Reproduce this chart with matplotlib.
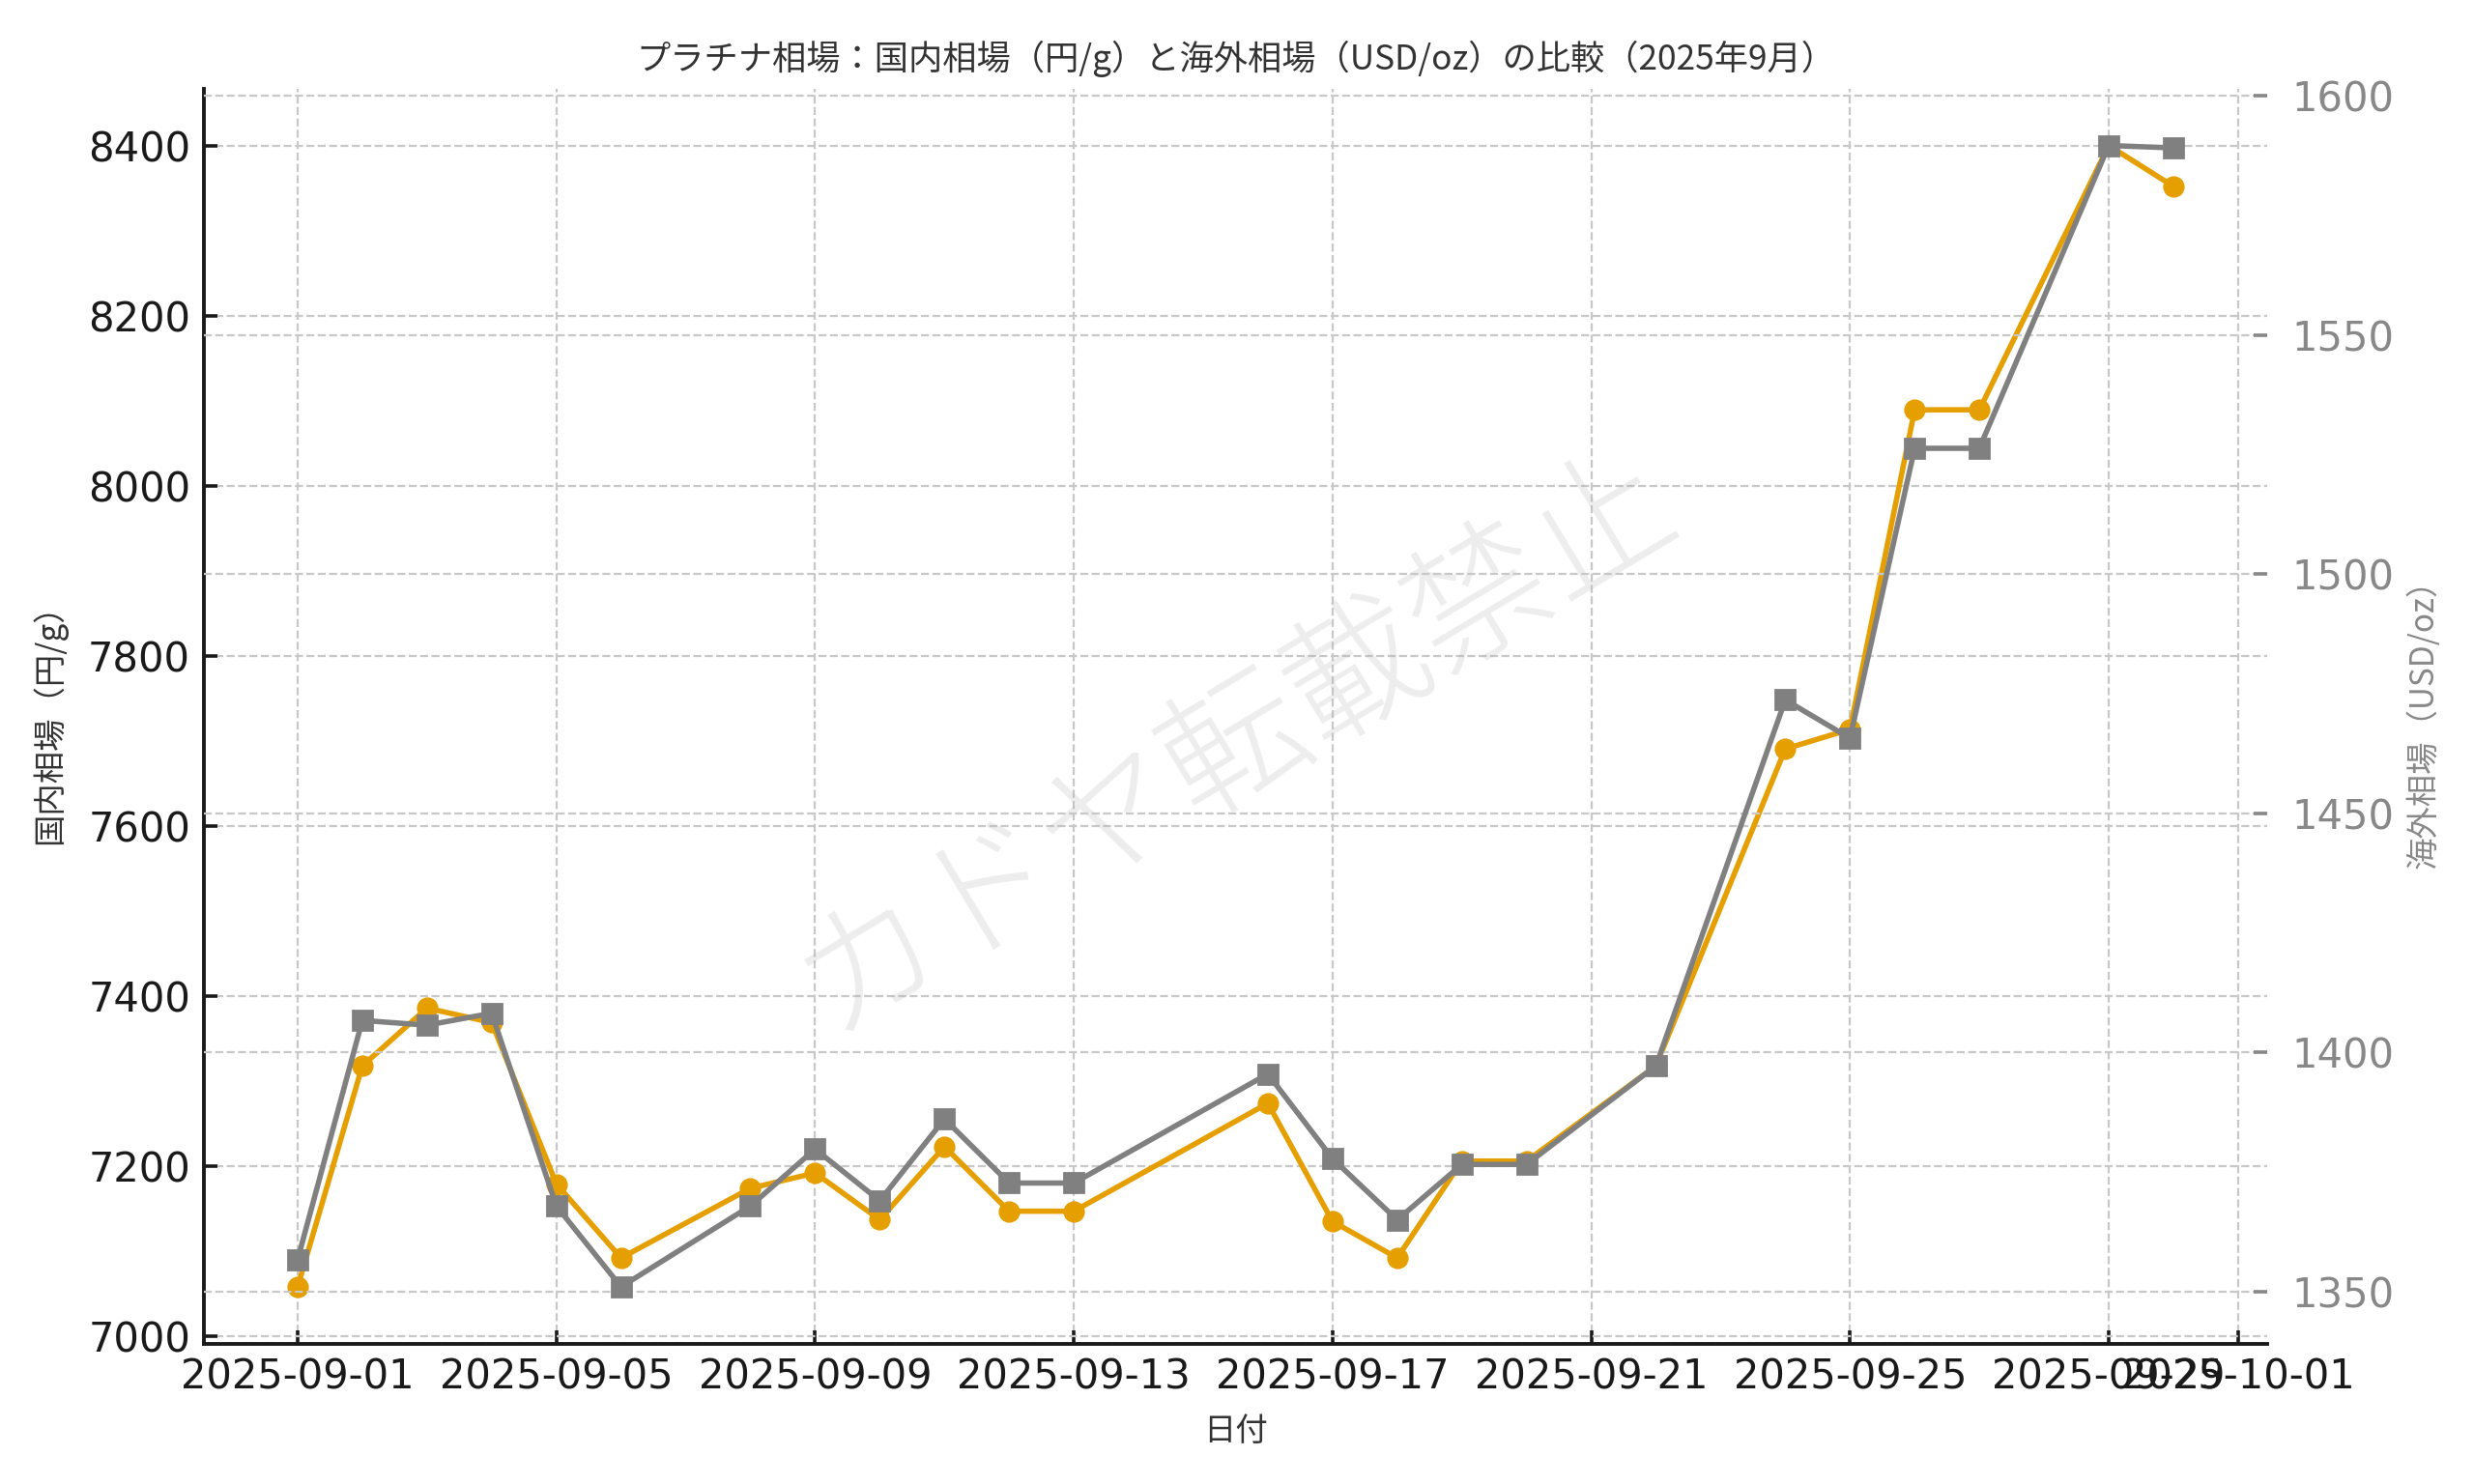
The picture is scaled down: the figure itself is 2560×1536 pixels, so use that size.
import matplotlib
matplotlib.use('Agg')
import matplotlib.pyplot as plt
import matplotlib.dates as mdates
import pandas as pd

plt.rcParams['font.family'] = ['DejaVu Sans', 'Noto Sans CJK JP']
JP = ['Noto Sans CJK JP', 'DejaVu Sans']

# ---- data ----
days = ['2025-09-01', '2025-09-02', '2025-09-03', '2025-09-04', '2025-09-05',
        '2025-09-06', '2025-09-08', '2025-09-09', '2025-09-10', '2025-09-11',
        '2025-09-12', '2025-09-13', '2025-09-16', '2025-09-17', '2025-09-18',
        '2025-09-19', '2025-09-20', '2025-09-22', '2025-09-24', '2025-09-25',
        '2025-09-26', '2025-09-27', '2025-09-29', '2025-09-30']
jpy_per_g = [7058, 7318, 7386, 7369, 7179, 7092, 7174, 7192, 7137, 7223,
             7147, 7147, 7274, 7135, 7092, 7206, 7206, 7318, 7691, 7714,
             8090, 8090, 8401, 8353]
usd_per_oz = [1356.7, 1406.7, 1405.7, 1408.2, 1367.9, 1351.0, 1367.9, 1379.8,
              1369.0, 1386.1, 1372.7, 1372.7, 1395.5, 1377.8, 1365.0, 1376.6,
              1376.6, 1397.2, 1473.7, 1465.7, 1526.3, 1526.3, 1589.6, 1589.1]

title = 'プラチナ相場：国内相場（円/g）と海外相場（USD/oz）の比較（2025年9月）'
xlabel = '日付'
ylabel_left = '国内相場（円/g）'
ylabel_right = '海外相場（USD/oz）'
watermark = 'カドヤ転載禁止'

dates = pd.to_datetime(days)

fig = plt.figure(figsize=(12.8, 7.68), dpi=200)
ax = fig.add_axes([0.0824, 0.0944, 0.834, 0.846])

grid_kw = dict(ls='--', color='#c8c8c8', lw=0.8)
ax.grid(True, **grid_kw)
ax.set_axisbelow(True)

ax.plot(dates, jpy_per_g, color='#E69F00', marker='o', lw=2, ms=7, zorder=3)

ax2 = ax.twinx()
ax2.grid(True, **grid_kw)
ax2.set_axisbelow(True)
ax2.plot(dates, usd_per_oz, color='#808080', marker='s', lw=2, ms=7, zorder=3)

ax.text(0.5, 0.48, watermark, transform=ax.transAxes, fontsize=53,
        rotation=31, color='#b0b0b0', alpha=0.22, ha='center', va='center',
        family=JP, weight='light', zorder=1)

# x axis: dates every 4 days
ax.xaxis.set_major_locator(mdates.DayLocator(bymonthday=[1, 5, 9, 13, 17, 21, 25, 29]))
ax.xaxis.set_major_formatter(mdates.DateFormatter('%Y-%m-%d'))

for s in ['top', 'right']:
    ax.spines[s].set_visible(False)
for s in ax2.spines:
    ax2.spines[s].set_visible(False)
for s in ['left', 'bottom']:
    ax.spines[s].set_linewidth(1.4)
    ax.spines[s].set_color('#1a1a1a')

ax.tick_params(direction='in', length=5, width=1.3, labelsize=15, pad=5,
               colors='#1a1a1a')
ax2.tick_params(axis='y', direction='in', length=5, width=1.3, labelsize=15,
                pad=9, colors='#888888')

ax.set_title(title, fontsize=12.7, color='#333333', family=JP, pad=7)
ax.set_xlabel(xlabel, fontsize=12, color='#333333', family=JP, labelpad=6)
ax.set_ylabel(ylabel_left, fontsize=12, color='#333333', family=JP, labelpad=8)
ax2.set_ylabel(ylabel_right, fontsize=12, color='#888888', family=JP, labelpad=5)

plt.savefig('out.png', dpi=200)
